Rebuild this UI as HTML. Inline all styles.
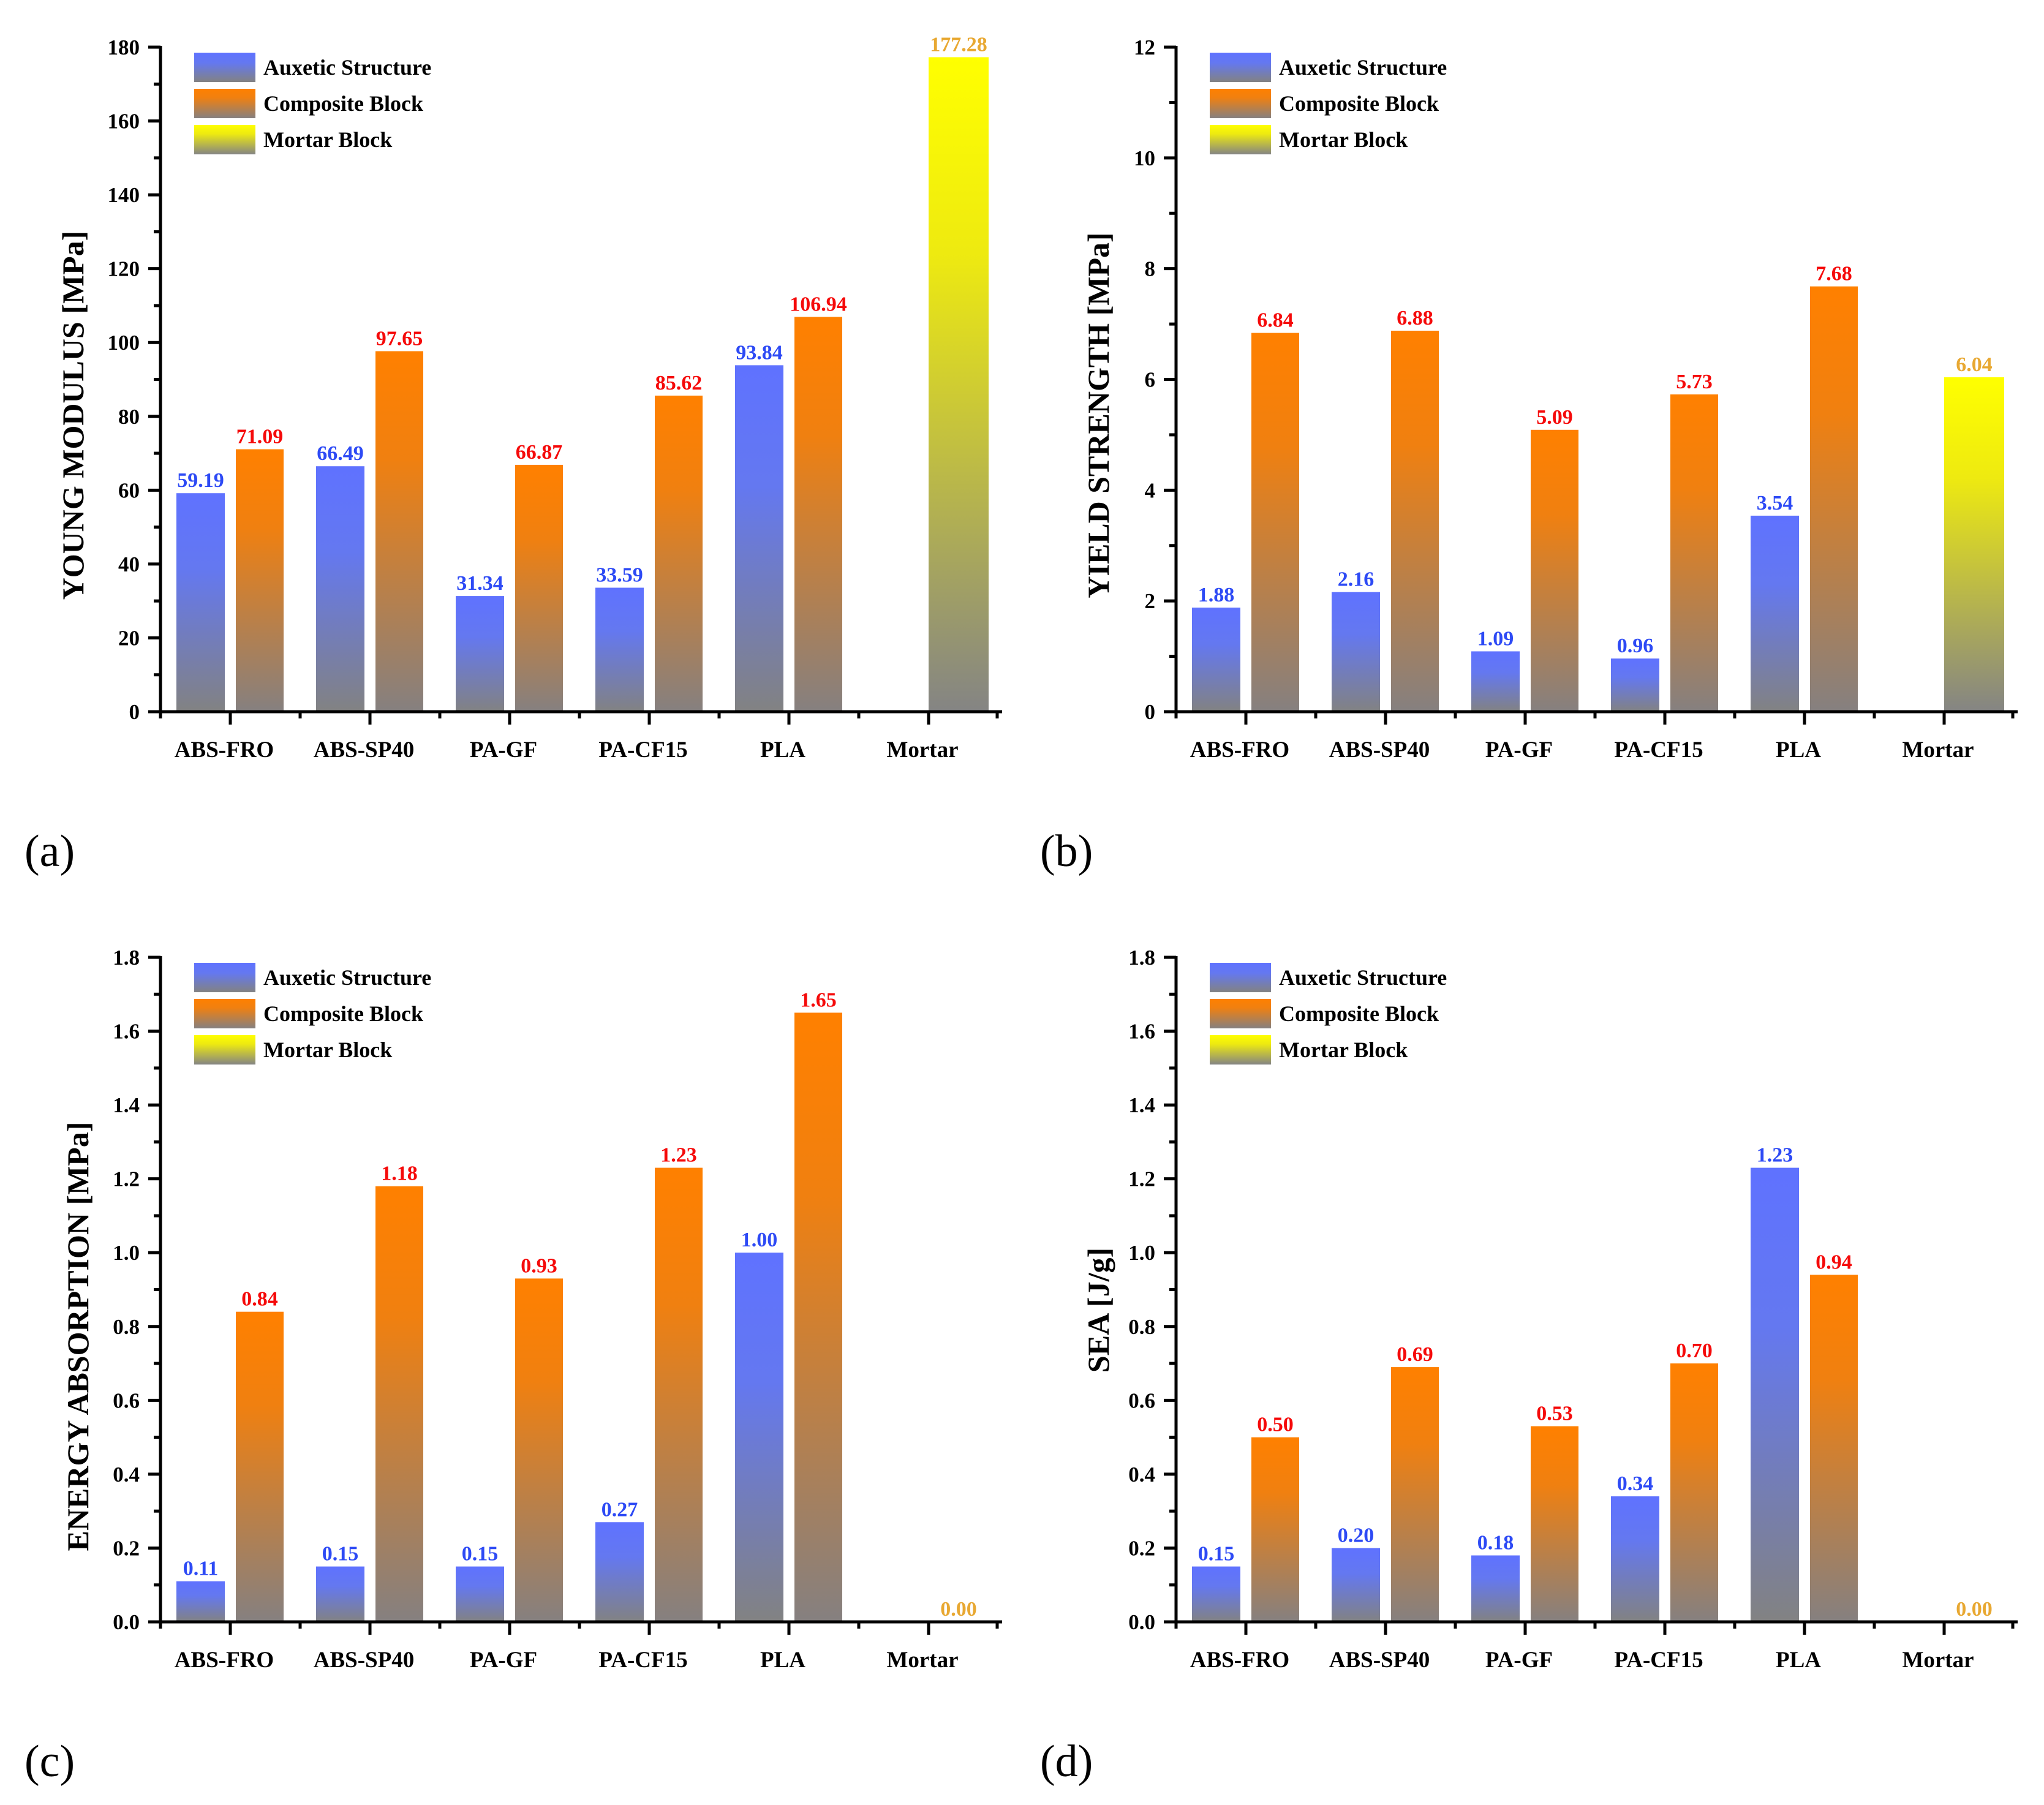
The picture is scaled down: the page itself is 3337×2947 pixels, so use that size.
<!DOCTYPE html>
<html><head><meta charset="utf-8"><style>
html,body{margin:0;padding:0;background:#fff;}
svg{display:block;font-family:"Liberation Serif",serif;}
</style></head><body>
<svg id="fig" width="3337" height="2947" viewBox="0 0 3337 2947" xmlns="http://www.w3.org/2000/svg">
<defs>
<linearGradient id="gBlue" x1="0" y1="0" x2="0" y2="1"><stop offset="0" stop-color="#5f72ff"/><stop offset="0.35" stop-color="#6478f0"/><stop offset="1" stop-color="#828282"/></linearGradient>
<linearGradient id="gOrange" x1="0" y1="0" x2="0" y2="1"><stop offset="0" stop-color="#ff8000"/><stop offset="0.3" stop-color="#f08010"/><stop offset="1" stop-color="#858080"/></linearGradient>
<linearGradient id="gYellow" x1="0" y1="0" x2="0" y2="1"><stop offset="0" stop-color="#ffff00"/><stop offset="0.3" stop-color="#eeea10"/><stop offset="1" stop-color="#848484"/></linearGradient>
</defs>
</svg>
<script>
const categories = ["ABS-FRO","ABS-SP40","PA-GF","PA-CF15","PLA","Mortar"];
const youngAuxetic = [59.19,66.49,31.34,33.59,93.84];
const youngComposite = [71.09,97.65,66.87,85.62,106.94];
const youngMortar = 177.28;
const yieldAuxetic = [1.88,2.16,1.09,0.96,3.54];
const yieldComposite = [6.84,6.88,5.09,5.73,7.68];
const yieldMortar = 6.04;
const energyAuxetic = [0.11,0.15,0.15,0.27,1.00];
const energyComposite = [0.84,1.18,0.93,1.23,1.65];
const energyMortar = 0.00;
const seaAuxetic = [0.15,0.20,0.18,0.34,1.23];
const seaComposite = [0.50,0.69,0.53,0.70,0.94];
const seaMortar = 0.00;
const youngTicks = ["0","20","40","60","80","100","120","140","160","180"];
const yieldTicks = ["0","2","4","6","8","10","12"];
const energyTicks = ["0.0","0.2","0.4","0.6","0.8","1.0","1.2","1.4","1.6","1.8"];
const seaTicks = ["0.0","0.2","0.4","0.6","0.8","1.0","1.2","1.4","1.6","1.8"];
const legendLabels = ["Auxetic Structure","Composite Block","Mortar Block"];

const NS = "http://www.w3.org/2000/svg";
const svg = document.getElementById('fig');
function mk(tag, attrs, parent, text){
  const e = document.createElementNS(NS, tag);
  for (const k in attrs) e.setAttribute(k, attrs[k]);
  if (text !== undefined) e.textContent = text;
  parent.appendChild(e);
  return e;
}

function drawPanel(ox, oy, ticks, aux, comp, mortar, title, titleX, titleY, panelLabel, prefix){
  const g = mk('g', {transform:`translate(${ox},${oy})`}, svg);
  
  
  const x0 = 262, y0 = 1162, yTop = 77, xEnd = 1636;
  const tmin = parseFloat(ticks[0]), tmax = parseFloat(ticks[ticks.length-1]);
  const yS = v => y0 - (v - tmin) / (tmax - tmin) * (y0 - yTop);
  const groupX = i => 288 + 228 * i;
  const fmt = v => v.toFixed(2);
  for (let i = 0; i < aux.length; i++){
    const bx = groupX(i);
    const b1 = mk('rect', {x:bx, y:yS(aux[i]), width:79, height:y0 - yS(aux[i]), fill:'url(#gBlue)'}, g);
    
    
    const t1 = mk('text', {x:bx+39.5, y:yS(aux[i])-10, 'font-size':34, 'font-weight':'bold', fill:'#2d4af5', 'text-anchor':'middle'}, g, fmt(aux[i]));
    
    
    const b2 = mk('rect', {x:bx+97, y:yS(comp[i]), width:78, height:y0 - yS(comp[i]), fill:'url(#gOrange)'}, g);
    
    
    const t2 = mk('text', {x:bx+136, y:yS(comp[i])-10, 'font-size':34, 'font-weight':'bold', fill:'#f50a0a', 'text-anchor':'middle'}, g, fmt(comp[i]));
    
    
  }
  const mx = 1516;
  if (mortar > 0){
    const b3 = mk('rect', {x:mx, y:yS(mortar), width:98, height:y0 - yS(mortar), fill:'url(#gYellow)'}, g);
    
    
  }
  const t3 = mk('text', {x:mx+49, y:yS(mortar)-10, 'font-size':34, 'font-weight':'bold', fill:'#e8a832', 'text-anchor':'middle'}, g, fmt(mortar));
  
  
  const ya = mk('line', {x1:x0, y1:yTop-2, x2:x0, y2:y0, stroke:'#000', 'stroke-width':5}, g);
  
  
  const xa = mk('line', {x1:242, y1:y0, x2:xEnd, y2:y0, stroke:'#000', 'stroke-width':5}, g);
  
  
  for (let k = 0; k < ticks.length; k++){
    const v = parseFloat(ticks[k]);
    const y = yS(v);
    mk('line', {x1:x0-20, y1:y, x2:x0, y2:y, stroke:'#000', 'stroke-width':5}, g);
    const tl = mk('text', {x:x0-34, y:y+12, 'font-size':35, 'font-weight':'bold', 'text-anchor':'end'}, g, ticks[k]);
    
    
    if (k < ticks.length-1){
      const vm = (v + parseFloat(ticks[k+1])) / 2;
      mk('line', {x1:x0-11, y1:yS(vm), x2:x0, y2:yS(vm), stroke:'#000', 'stroke-width':5}, g);
    }
  }
  for (let k = 0; k <= 12; k++){
    const x = 262 + 114 * k - (k===12?2:0);
    if (k % 2 === 0) mk('line', {x1:x, y1:y0, x2:x, y2:y0+11, stroke:'#000', 'stroke-width':5}, g);
    else mk('line', {x1:x, y1:y0, x2:x, y2:y0+21, stroke:'#000', 'stroke-width':5}, g);
  }
  for (let i = 0; i < categories.length; i++){
    const cl = mk('text', {x:groupX(i)+78, y:1236, 'font-size':37, 'font-weight':'bold', 'text-anchor':'middle'}, g, categories[i]);
    
    
  }
  const tt = mk('text', {x:0, y:0, 'font-size':50, 'font-weight':'bold', 'text-anchor':'middle', transform:`translate(${titleX},${titleY}) rotate(-90)`}, g, title);
  
  
  const fills = ['url(#gBlue)','url(#gOrange)','url(#gYellow)'];
  for (let j = 0; j < 3; j++){
    const ly = 86 + j * 59;
    const lr = mk('rect', {x:317, y:ly, width:100, height:48, fill:fills[j]}, g);
    
    
    const lt = mk('text', {x:430, y:ly+36, 'font-size':36, 'font-weight':'bold'}, g, legendLabels[j]);
    
    
  }
  const pl = mk('text', {x:40, y:1414, 'font-size':74}, g, panelLabel);
  
  
}

drawPanel(0, 0, youngTicks, youngAuxetic, youngComposite, youngMortar, "YOUNG MODULUS [MPa]", 136, 678, "(a)", "young");
drawPanel(1658, 0, yieldTicks, yieldAuxetic, yieldComposite, yieldMortar, "YIELD STRENGTH [MPa]", 152, 678, "(b)", "yield");
drawPanel(0, 1486, energyTicks, energyAuxetic, energyComposite, energyMortar, "ENERGY ABSORPTION [MPa]", 144, 696, "(c)", "energy");
drawPanel(1658, 1486, seaTicks, seaAuxetic, seaComposite, seaMortar, "SEA [J/g]", 152, 653, "(d)", "sea");
</script>
</body></html>
